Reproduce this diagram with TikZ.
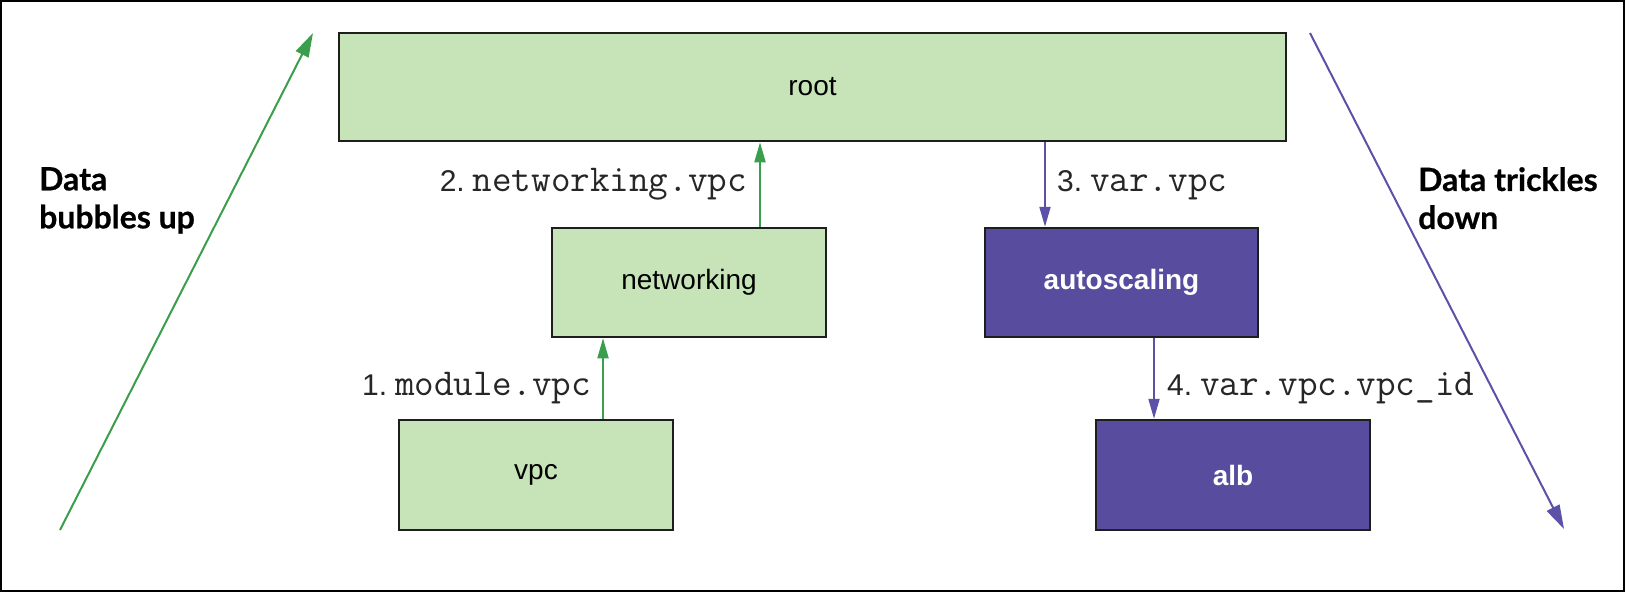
\documentclass[tikz,border=0pt]{standalone}
\usepackage{fontspec}
\setmainfont{Liberation Sans}
\newfontfamily\latofont[BoldFeatures={FakeBold=0.6}]{Lato}
\usetikzlibrary{arrows.meta,calc}
\definecolor{boxgreen}{HTML}{C6E4B8}
\definecolor{boxpurple}{HTML}{574C9E}
\definecolor{boxborder}{HTML}{1E1E1E}
\definecolor{arrowgreen}{HTML}{3A9E4C}
\definecolor{arrowpurple}{HTML}{5B52A8}
\definecolor{lbltext}{HTML}{262626}
\newcommand{\lblnum}[1]{{\rmfamily\fontsize{30}{34}\selectfont #1}\hspace{8pt}}
\begin{document}
\begin{tikzpicture}[x=1pt,y=-1pt,
  gbox/.style={draw=boxborder, line width=2.5pt, fill=boxgreen, inner sep=0pt,
    font=\fontsize{28}{32}\selectfont},
  pbox/.style={draw=boxborder, line width=2.5pt, fill=boxpurple, inner sep=0pt,
    text=white, font=\fontsize{28}{32}\selectfont\bfseries},
  garrow/.style={draw=arrowgreen, line width=2pt, -{Triangle[length=20pt,width=11pt]}},
  parrow/.style={draw=arrowpurple, line width=2pt, -{Triangle[length=20pt,width=11pt]}},
  bigg/.style={draw=arrowgreen, line width=2pt, -{Triangle[length=24pt,width=14pt]}},
  bigp/.style={draw=arrowpurple, line width=2pt, -{Triangle[length=24pt,width=14pt]}},
  lbl/.style={inner sep=0pt, text=lbltext, font=\ttfamily\fontsize{38}{40}\selectfont},
  side/.style={inner sep=0pt, align=left, font=\latofont\bfseries\fontsize{32}{38}\selectfont}
]
\useasboundingbox (0,0) rectangle (1629,594);
\draw[line width=2pt, black] (1,1) rectangle (1624,591);

% boxes
\node[gbox, minimum width=947pt, minimum height=108pt] (root) at (812.5,87) {root};
\node[gbox, minimum width=274pt, minimum height=109pt] (networking) at (689,282.5) {networking};
\node[pbox, minimum width=273pt, minimum height=109pt] (autoscaling) at (1121.5,282.5) {autoscaling};
\node[gbox, minimum width=274pt, minimum height=110pt] (vpc) at (536,475) {vpc};
\node[pbox, minimum width=274pt, minimum height=110pt] (alb) at (1233,475) {alb};

% connectors
\draw[garrow] ([xshift=67pt]vpc.north) -- ([xshift=67pt]vpc.north |- networking.south);
\draw[garrow] ([xshift=71pt]networking.north) -- ([xshift=71pt]networking.north |- root.south);
\draw[parrow] ([xshift=-76.5pt]autoscaling.north |- root.south) -- ([xshift=-76.5pt]autoscaling.north);
\draw[parrow] ([xshift=-79pt]alb.north |- autoscaling.south) -- ([xshift=-79pt]alb.north);

% labels
\node[lbl, anchor=base east] (l1) at (591,395) {\lblnum{1.}module.vpc};
\node[lbl, anchor=base east] (l2) at (747,191) {\lblnum{2.}networking.vpc};
\node[lbl, anchor=base west] (l3) at (1057,191) {\lblnum{3.}var.vpc};
\node[lbl, anchor=base west] (l4) at (1167,395) {\lblnum{4.}var.vpc.vpc\_id};

% big diagonal arrows
\coordinate (gstart) at (60,530);
\coordinate (gend) at (313,33);
\coordinate (pstart) at (1310,33);
\coordinate (pend) at (1564,529);
\draw[bigg] (gstart) -- (gend);
\draw[bigp] (pstart) -- (pend);

\node[side, anchor=north west] (up) at (39,167) {Data\\bubbles up};
\node[side, anchor=north west] (down) at (1418,167) {Data trickles\\down};
\end{tikzpicture}
\end{document}
